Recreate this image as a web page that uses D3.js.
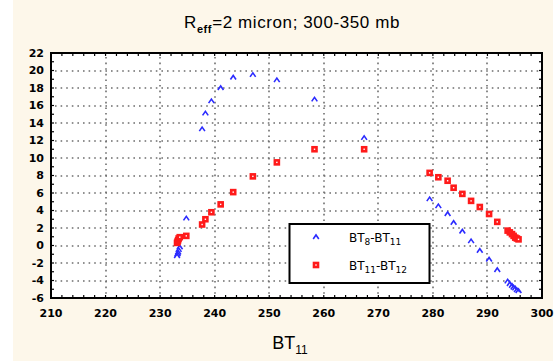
<!DOCTYPE html>
<html>
<head>
<meta charset="utf-8">
<script src="https://cdn.jsdelivr.net/npm/d3@7"></script>
<style>
  body { margin: 0; background: #fff; }
  svg { display: block; }
</style>
</head>
<body>
<div id="chart"></div>
<script>
// shared x values (BT11)
const bt11 = [233.1, 233.2, 233.3, 233.4, 233.6, 234.8, 237.7, 238.3, 239.4, 241.1,
              243.4, 247.0, 251.4, 258.3, 267.4, 279.4, 281.0, 282.7, 283.8, 285.4,
              287.0, 288.6, 290.3, 291.8, 293.7, 294.1, 294.5, 294.8, 295.1, 295.4, 295.7];
const bt8Minus11 = [-1.2, -1.0, -0.8, -0.5, -0.2, 3.1, 13.3, 15.1, 16.5, 18.0,
                    19.2, 19.5, 18.9, 16.7, 12.3, 5.3, 4.5, 3.6, 2.6, 1.6,
                    0.5, -0.6, -1.6, -2.8, -4.1, -4.4, -4.6, -4.8, -4.9, -5.1, -5.2];
const bt11Minus12 = [0.3, 0.45, 0.6, 0.8, 0.95, 1.1, 2.4, 3.0, 3.8, 4.7,
                     6.1, 7.9, 9.5, 11.0, 11.0, 8.3, 7.8, 7.4, 6.6, 5.9,
                     5.1, 4.4, 3.6, 2.7, 1.7, 1.5, 1.3, 1.1, 0.9, 0.8, 0.7];
const xTicks = [210, 220, 230, 240, 250, 260, 270, 280, 290, 300];
const yTicks = [-6, -4, -2, 0, 2, 4, 6, 8, 10, 12, 14, 16, 18, 20, 22];

const W = 558, H = 361;
const margin = {top: 53, right: 16, bottom: 63, left: 51};
const tickFont = "DejaVu Sans, sans-serif";

const svg = d3.select("#chart").append("svg")
    .attr("width", W)
    .attr("height", H);

// cream panel
svg.append("rect").attr("width", W).attr("height", H).attr("fill", "#fff");
svg.append("rect")
    .attr("x", 13).attr("y", 0)
    .attr("width", 540).attr("height", H)
    .attr("fill", "#fdf7ea");

const x = d3.scaleLinear().domain([210, 300]).range([margin.left, W - margin.right]);
const y = d3.scaleLinear().domain([-6, 22]).range([H - margin.bottom, margin.top]);

// plot area
svg.append("rect")
    .attr("x", x(210)).attr("y", y(22))
    .attr("width", x(300) - x(210)).attr("height", y(-6) - y(22))
    .attr("fill", "#fff");

// dotted grid
const grid = svg.append("g").attr("stroke", "#6e6e6e").attr("stroke-width", 1.6)
    .attr("stroke-dasharray", "1.6,4");
grid.selectAll(".hg").data(yTicks.slice(1, -1)).enter().append("line")
    .attr("x1", x(210) + 4).attr("x2", x(300))
    .attr("y1", d => Math.round(y(d))).attr("y2", d => Math.round(y(d)));
grid.selectAll(".vg").data(xTicks.slice(1, -1)).enter().append("line")
    .attr("x1", d => Math.round(x(d))).attr("x2", d => Math.round(x(d)))
    .attr("y1", y(22) + 4).attr("y2", y(-6));

// inner ticks on all four sides
const tk = svg.append("g").attr("stroke", "#000").attr("stroke-width", 1.2);
const yMinor = d3.range(-6, 22.01, 1);
const xMinor = d3.range(210, 300.01, 2);
tk.selectAll(".yl").data(yMinor).enter().append("line")
    .attr("x1", x(210)).attr("x2", x(210) + 3)
    .attr("y1", d => y(d)).attr("y2", d => y(d));
tk.selectAll(".yr").data(yMinor).enter().append("line")
    .attr("x1", x(300)).attr("x2", x(300) - 3)
    .attr("y1", d => y(d)).attr("y2", d => y(d));
tk.selectAll(".xb").data(xMinor).enter().append("line")
    .attr("x1", d => x(d)).attr("x2", d => x(d))
    .attr("y1", y(-6)).attr("y2", y(-6) - 3);
tk.selectAll(".xt").data(xMinor).enter().append("line")
    .attr("x1", d => x(d)).attr("x2", d => x(d))
    .attr("y1", y(22)).attr("y2", y(22) + 3);

// frame
svg.append("rect")
    .attr("x", x(210)).attr("y", y(22))
    .attr("width", x(300) - x(210)).attr("height", y(-6) - y(22))
    .attr("fill", "none").attr("stroke", "#000").attr("stroke-width", 2);

// tick labels
svg.append("g").selectAll("text").data(yTicks).enter().append("text")
    .attr("x", x(210) - 7).attr("y", d => y(d)).attr("dy", "0.36em")
    .attr("text-anchor", "end")
    .attr("font-family", tickFont).attr("font-weight", "bold").attr("font-size", 11)
    .text(d => d);
svg.append("g").selectAll("text").data(xTicks).enter().append("text")
    .attr("x", d => x(d)).attr("y", y(-6) + 19)
    .attr("text-anchor", "middle")
    .attr("font-family", tickFont).attr("font-weight", "bold").attr("font-size", 11)
    .text(d => d);

// title
const title = svg.append("text")
    .attr("x", 292).attr("y", 28)
    .attr("text-anchor", "middle")
    .attr("font-family", "Liberation Sans, Arial, sans-serif").attr("font-size", 17)
    .attr("letter-spacing", 0.6);
title.append("tspan").text("R");
title.append("tspan").attr("font-size", 11).attr("font-weight", "bold").attr("dy", 5).text("eff");
title.append("tspan").attr("dy", -5).text("=2 micron; 300-350 mb");

// x-axis title
const xt = svg.append("text")
    .attr("x", 290).attr("y", 349)
    .attr("text-anchor", "middle")
    .attr("font-family", "Liberation Sans, Arial, sans-serif").attr("font-size", 18);
xt.append("tspan").text("BT");
xt.append("tspan").attr("font-size", 12).attr("dy", 5).text("11");

// markers
const triPath = "M-2.8,2 L0,-2 L2.8,2";
const blue = "#2b2bff", red = "#ff1a1a";
const pts = bt11.map((v, i) => ({x: v, a: bt8Minus11[i], b: bt11Minus12[i]}));

svg.append("g").selectAll("path").data(pts).enter().append("path")
    .attr("d", triPath)
    .attr("transform", d => "translate(" + x(d.x) + "," + y(d.a) + ")")
    .attr("fill", "none").attr("stroke", blue).attr("stroke-width", 1.6);

svg.append("g").selectAll("rect").data(pts).enter().append("rect")
    .attr("x", d => x(d.x) - 2).attr("y", d => y(d.b) - 2)
    .attr("width", 4).attr("height", 4)
    .attr("fill", "#fff").attr("stroke", red).attr("stroke-width", 2.6);

// legend
const lg = svg.append("g");
lg.append("rect")
    .attr("x", 289.5).attr("y", 224).attr("width", 140).attr("height", 59)
    .attr("fill", "#fff").attr("stroke", "#000").attr("stroke-width", 2);
lg.append("path").attr("d", triPath)
    .attr("transform", "translate(316,237)")
    .attr("fill", "none").attr("stroke", blue).attr("stroke-width", 1.6);
lg.append("rect").attr("x", 314).attr("y", 263).attr("width", 4).attr("height", 4)
    .attr("fill", "#fff").attr("stroke", red).attr("stroke-width", 2.6);

function legendLabel(yPos, a, b) {
    const t = lg.append("text").attr("x", 349).attr("y", yPos)
        .attr("font-family", tickFont).attr("font-size", 12);
    t.append("tspan").text("BT");
    t.append("tspan").attr("font-size", 9).attr("dy", 3).text(a);
    t.append("tspan").attr("dy", -3).text("-BT");
    t.append("tspan").attr("font-size", 9).attr("dy", 3).text(b);
}
legendLabel(242, "8", "11");
legendLabel(270, "11", "12");
</script>
</body>
</html>
